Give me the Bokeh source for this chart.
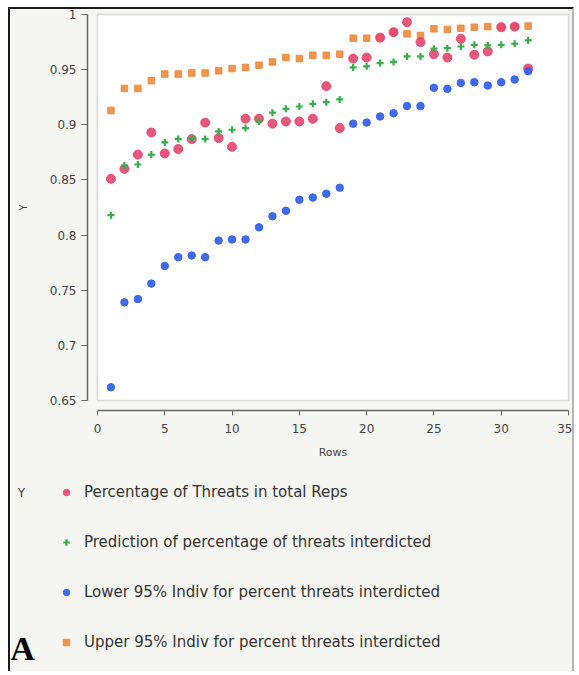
from bokeh.plotting import figure
from bokeh.models import (Range1d, FixedTicker, BoxAnnotation, Legend, LegendItem, Label,
                          ColumnDataSource)
from bokeh.embed import file_html
from bokeh.resources import INLINE

# ---------------- data ----------------
rows = list(range(1, 33))
pct_threats = [0.851, 0.860, 0.873, 0.893, 0.874, 0.878, 0.887, 0.902, 0.888, 0.880,
               0.9055, 0.9055, 0.901, 0.903, 0.903, 0.9055, 0.935, 0.897, 0.960, 0.961,
               0.979, 0.984, 0.993, 0.975, 0.964, 0.961, 0.978, 0.9635, 0.9665, 0.9885,
               0.989, 0.951]
prediction = [0.818, 0.863, 0.864, 0.873, 0.884, 0.887, 0.888, 0.887, 0.894, 0.8955,
              0.897, 0.903, 0.911, 0.9145, 0.9166, 0.919, 0.9205, 0.923, 0.952, 0.953,
              0.956, 0.957, 0.962, 0.962, 0.969, 0.9695, 0.971, 0.9725, 0.972, 0.9725,
              0.9735, 0.9765]
lower95 = [0.662, 0.739, 0.742, 0.756, 0.772, 0.780, 0.7815, 0.780, 0.795, 0.796,
           0.796, 0.807, 0.817, 0.822, 0.832, 0.834, 0.8375, 0.843, 0.901, 0.902,
           0.9075, 0.9105, 0.917, 0.917, 0.9335, 0.9326, 0.938, 0.9386, 0.9356, 0.9386,
           0.941, 0.9486]
upper95 = [0.913, 0.933, 0.933, 0.940, 0.946, 0.946, 0.947, 0.947, 0.949, 0.951,
           0.952, 0.954, 0.957, 0.961, 0.960, 0.963, 0.963, 0.964, 0.9785, 0.9785,
           0.979, 0.984, 0.9825, 0.981, 0.987, 0.9865, 0.9875, 0.9885, 0.989, 0.9885,
           0.989, 0.9895]

x_ticks = [0, 5, 10, 15, 20, 25, 30, 35]
y_ticks = [0.65, 0.7, 0.75, 0.8, 0.85, 0.9, 0.95, 1.0]
y_tick_labels = ["0.65", "0.7", "0.75", "0.8", "0.85", "0.9", "0.95", "1"]
series_labels = ["Percentage of Threats in total Reps",
                 "Prediction of percentage of threats interdicted",
                 "Lower 95% Indiv for percent threats interdicted",
                 "Upper 95% Indiv for percent threats interdicted"]
legend_title = "Y"
panel_letter = "A"

# ---------------- layout (pixels inside the figure) ----------------
W, H = 566, 664
data_left, data_right = 87, 558      # pixel columns of x = 0 and x = 35
data_top, data_bottom = 5, 391       # pixel rows of y = 1 and y = 0.65
axis_gap = 10                         # JMP style offset between axes and plot box
x0, x1 = x_ticks[0], x_ticks[-1]
y0, y1 = y_ticks[0], y_ticks[-1]
sx = (data_right - data_left) / (x1 - x0)
sy = (data_bottom - data_top) / (y1 - y0)
x_start = x0 - data_left / sx
x_end = x1 + (W - data_right) / sx
y_start = y0 - (H - data_bottom) / sy
y_end = y1 + data_top / sy

BG = "#f5f5f2"
FONT = "DejaVu Sans"

p = figure(width=W, height=H, output_backend="svg", toolbar_location=None,
           x_range=Range1d(x_start, x_end), y_range=Range1d(y_start, y_end),
           min_border=0, min_border_left=0, min_border_right=0,
           min_border_top=0, min_border_bottom=0,
           background_fill_color=BG, border_fill_color=BG)
p.outline_line_color = None
p.grid.visible = False
p.styles = {"margin-left": "8px", "margin-top": "7px",
            "border-top": "2px solid #1a1a1a", "border-left": "2px solid #1a1a1a",
            "border-right": "2px solid #b4b4b4"}

# inner white plot box
p.add_layout(BoxAnnotation(left=x0, right=x1, bottom=y0, top=y1,
                           fill_color="white", fill_alpha=1.0,
                           line_color="#8c8c8c", line_width=1.5, level="underlay"))

# ---------------- glyphs ----------------
src = ColumnDataSource(data=dict(rows=rows, pct=pct_threats, pred=prediction,
                                 lo=lower95, up=upper95))
r_up = p.scatter("rows", "up", source=src, marker="square", size=6.5, color="#f08a3a", alpha=0.9)
r_y = p.scatter("rows", "pct", source=src, marker="circle", size=9, color="#e8456e", alpha=0.9)
r_pr = p.scatter("rows", "pred", source=src, marker="cross", size=7, line_width=2.2, color="#35b04a")
r_lo = p.scatter("rows", "lo", source=src, marker="circle", size=7.5, color="#3563ee", alpha=0.95)

# ---------------- axes (fixed, offset from the plot box) ----------------
ax = p.xaxis[0]
ax.fixed_location = y0 - axis_gap / sy
ax.ticker = FixedTicker(ticks=x_ticks)
ax.bounds = (x0, x1)
ax.axis_label = "Rows"
ax.axis_label_text_font = FONT
ax.axis_label_text_font_size = "11px"
ax.axis_label_text_font_style = "normal"
ax.axis_label_text_color = "#444444"
ax.axis_label_standoff = 10
ax.major_label_text_font = FONT
ax.major_label_text_font_size = "12px"
ax.major_label_text_color = "#444444"
ax.major_label_standoff = 8
ax.major_tick_out = 5
ax.major_tick_in = 0
ax.minor_tick_out = 0
ax.minor_tick_in = 0
ax.axis_line_color = "#666666"
ax.major_tick_line_color = "#666666"
ax.axis_line_width = 1.5

ay = p.yaxis[0]
ay.fixed_location = x0 - axis_gap / sx
ay.ticker = FixedTicker(ticks=y_ticks)
ay.major_label_overrides = {t: s for t, s in zip(y_ticks, y_tick_labels)}
ay.bounds = (y0, y1)
ay.axis_label = "Y"
ay.axis_label_text_font = FONT
ay.axis_label_text_font_size = "10px"
ay.axis_label_text_font_style = "normal"
ay.axis_label_text_color = "#444444"
ay.axis_label_standoff = 18
ay.major_label_text_font = FONT
ay.major_label_text_font_size = "12px"
ay.major_label_text_color = "#444444"
ay.major_label_standoff = 5
ay.major_tick_out = 6
ay.major_tick_in = 0
ay.minor_tick_out = 0
ay.minor_tick_in = 0
ay.axis_line_color = "#666666"
ay.major_tick_line_color = "#666666"
ay.axis_line_width = 1.5

# ---------------- legend ----------------
legend = Legend(items=[LegendItem(label=series_labels[0], renderers=[r_y]),
                       LegendItem(label=series_labels[1], renderers=[r_pr]),
                       LegendItem(label=series_labels[2], renderers=[r_lo]),
                       LegendItem(label=series_labels[3], renderers=[r_up])],
                location=(48, 21), orientation="vertical",
                margin=0, padding=0, spacing=30,
                glyph_width=16, glyph_height=20, label_height=20, label_standoff=10,
                label_text_font=FONT, label_text_font_size="15px", label_text_color="#333333",
                background_fill_alpha=0.0, border_line_color=None)
p.add_layout(legend)

p.add_layout(Label(x=11, y=181, x_units="screen", y_units="screen", text=legend_title,
                   text_align="center", text_baseline="middle", text_font=FONT,
                   text_font_size="12px", text_color="#333333"))
p.add_layout(Label(x=12, y=25, x_units="screen", y_units="screen", text=panel_letter,
                   text_align="center", text_baseline="middle", text_font="Liberation Serif",
                   text_font_size="34px", text_font_style="bold", text_color="#000000"))

open("out.html", "w").write(file_html(p, INLINE))
